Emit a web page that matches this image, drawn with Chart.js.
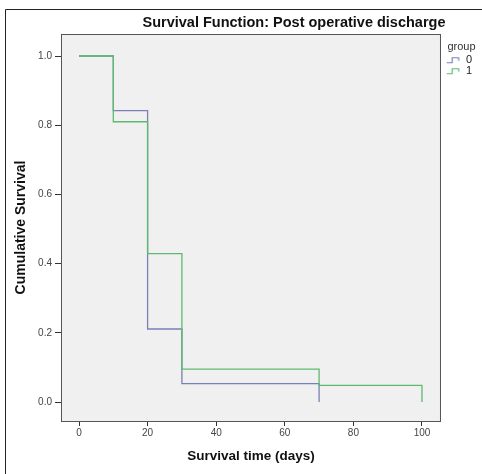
<!DOCTYPE html>
<html>
<head>
<meta charset="utf-8">
<script src="https://cdn.jsdelivr.net/npm/chart.js@4/dist/chart.umd.min.js"></script>
<style>
  html, body { margin: 0; padding: 0; background: #fff; }
  #wrap { width: 482px; height: 474px; }
</style>
</head>
<body>
<div id="wrap"><canvas id="kmChart" width="482" height="474"></canvas></div>
<script>
// Kaplan-Meier steps (time at which survival drops, survival after the drop)
const groups = ["0", "1"];
const times0 = [0, 10, 20, 30, 70];
const surv0 = [1.0, 0.842, 0.211, 0.053, 0.0];
const times1 = [0, 10, 20, 30, 70, 100];
const surv1 = [1.0, 0.81, 0.429, 0.095, 0.048, 0.0];
const xTicks = [0, 20, 40, 60, 80, 100];
const yTicks = [0.0, 0.2, 0.4, 0.6, 0.8, 1.0];

const blue = "#7880b6";
const green = "#5cba6e";

const toPoints = (xs, ys) => xs.map((x, i) => ({ x: x, y: ys[i] }));

// small step glyph for the legend
function stepIcon(color) {
  const c = document.createElement("canvas");
  c.width = 22;
  c.height = 8;
  const g = c.getContext("2d");
  g.strokeStyle = color;
  g.lineWidth = 1.2;
  g.beginPath();
  g.moveTo(7, 6.5);
  g.lineTo(12.5, 6.5);
  g.lineTo(12.5, 1.5);
  g.lineTo(19, 1.5);
  g.lineTo(19, 4.5);
  g.stroke();
  return c;
}
const icons = [stepIcon(blue), stepIcon(green)];

const frame = {
  id: "frame",
  beforeDatasetsDraw(chart) {
    const { ctx, chartArea: a } = chart;
    ctx.save();
    ctx.fillStyle = "#f0f0f0";
    ctx.fillRect(a.left, a.top, a.right - a.left, a.bottom - a.top);
    ctx.restore();
  },
  afterDraw(chart) {
    const { ctx, chartArea: a } = chart;
    ctx.save();
    ctx.strokeStyle = "#555";
    ctx.lineWidth = 1;
    ctx.strokeRect(a.left + 0.5, a.top + 0.5, a.right - a.left - 1, a.bottom - a.top);
    // outer figure frame
    ctx.strokeStyle = "#222";
    ctx.beginPath();
    ctx.moveTo(5.5, chart.height);
    ctx.lineTo(5.5, 9.5);
    ctx.lineTo(chart.width, 9.5);
    ctx.stroke();
    ctx.fillStyle = "#111";
    ctx.font = "bold 14.5px 'Liberation Sans', Arial, sans-serif";
    ctx.textAlign = "center";
    ctx.textBaseline = "middle";
    ctx.fillText("Survival Function: Post operative discharge", 294, 23);
    ctx.restore();
  }
};

const ctx = document.getElementById("kmChart").getContext("2d");
new Chart(ctx, {
  type: "line",
  data: {
    datasets: [
      {
        label: groups[0],
        data: toPoints(times0, surv0),
        borderColor: blue,
        borderWidth: 1.3,
        stepped: true,
        pointRadius: 0,
        fill: false,
        order: 1,
      },
      {
        label: groups[1],
        data: toPoints(times1, surv1),
        borderColor: green,
        borderWidth: 1.3,
        stepped: true,
        pointRadius: 0,
        fill: false,
        order: 0,
      },
    ],
  },
  options: {
    responsive: false,
    animation: false,
    layout: { padding: { left: 0, top: 34, right: 0, bottom: 0 } },
    plugins: {
      tooltip: { enabled: false },
      legend: {
        position: "right",
        align: "start",
        title: {
          display: true,
          text: "group",
          position: "center",
          color: "#333",
          font: { family: "'Liberation Sans', Arial, sans-serif", size: 11 },
          padding: { top: 7.5, bottom: 0 },
        },
        labels: {
          usePointStyle: true,
          pointStyleWidth: 19.4,
          padding: 0,
          color: "#222",
          font: { family: "'Liberation Sans', Arial, sans-serif", size: 11 },
          generateLabels: (chart) =>
            chart.data.datasets.map((ds, i) => ({
              text: ds.label,
              pointStyle: icons[i],
              fillStyle: ds.borderColor,
              strokeStyle: ds.borderColor,
              lineWidth: 0,
              fontColor: "#222",
              datasetIndex: i,
            })),
        },
      },
    },
    scales: {
      x: {
        type: "linear",
        min: -5.25,
        max: 105.54,
        afterBuildTicks: (s) => { s.ticks = xTicks.map((v) => ({ value: v })); },
        afterFit: (s) => { s.height = 53; },
        grid: { drawOnChartArea: false, drawTicks: true, tickLength: 5, tickColor: "#333" },
        border: { display: false },
        ticks: {
          padding: 1,
          color: "#444",
          font: { family: "'Liberation Sans', Arial, sans-serif", size: 10 },
          callback: (v) => String(v),
        },
        title: {
          display: true,
          text: "Survival time (days)",
          color: "#111",
          font: { family: "'Liberation Sans', Arial, sans-serif", size: 13.5, weight: "bold" },
          padding: { top: 0, bottom: 10 },
        },
      },
      y: {
        type: "linear",
        min: -0.0549,
        max: 1.0636,
        afterBuildTicks: (s) => { s.ticks = yTicks.map((v) => ({ value: v })); },
        afterFit: (s) => { s.width = 61; },
        grid: { drawOnChartArea: false, drawTicks: true, tickLength: 6, tickColor: "#333" },
        border: { display: false },
        ticks: {
          padding: 3,
          color: "#444",
          font: { family: "'Liberation Sans', Arial, sans-serif", size: 10 },
          callback: (v) => v.toFixed(1),
        },
        title: {
          display: true,
          text: "Cumulative Survival",
          color: "#111",
          font: { family: "'Liberation Sans', Arial, sans-serif", size: 14, weight: "bold" },
          padding: { top: 13, bottom: 0 },
        },
      },
    },
  },
  plugins: [frame],
});
</script>
</body>
</html>
